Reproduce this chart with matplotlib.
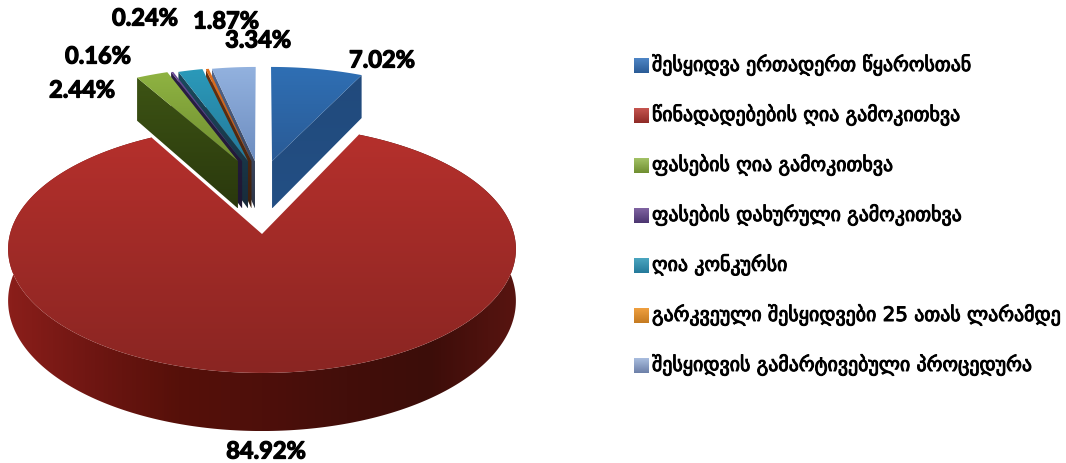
#!/usr/bin/env python3
import numpy as np
import matplotlib
matplotlib.use("Agg")
import matplotlib.patheffects as pe
import matplotlib.pyplot as plt
from matplotlib.colors import LinearSegmentedColormap
from matplotlib.patches import Polygon

# clockwise from north, same order as the legend except teal/orange labels
categories = [
    "შესყიდვა ერთადერთ წყაროსთან",
    "წინადადებების ღია გამოკითხვა",
    "ფასების ღია გამოკითხვა",
    "ფასების დახურული გამოკითხვა",
    "ღია კონკურსი",
    "გარკვეული შესყიდვები 25 ათას ლარამდე",
    "შესყიდვის გამარტივებული პროცედურა",
]
values = [7.02, 84.92, 2.44, 0.16, 1.87, 0.24, 3.34]
value_labels = ["7.02%", "84.92%", "2.44%", "0.16%", "1.87%", "0.24%", "3.34%"]

top_light = ["#2F6FB4", "#B5302C", "#8FB342", "#6A4A98", "#2B9ABA", "#E0701F", "#93B2DF"]
top_dark = ["#2A5B96", "#8A2522", "#6F8E30", "#4B3570", "#24799A", "#B85A18", "#6D8DC0"]
face_light = ["#214A7C", "#7A1A16", "#3D5414", "#2A1F45", "#1B4A5E", "#6A3210", "#55698F"]
face_dark = ["#234F84", "#4A0F0C", "#2A380D", "#1E1733", "#182B3A", "#3A2110", "#2C3344"]
legend_light = ["#4F86C6", "#C65550", "#A3C266", "#8064A2", "#4BA6C0", "#F0A040", "#A9BEDF"]
legend_dark = ["#2A5B96", "#8E2A26", "#6F8E30", "#4B3570", "#24799A", "#C47A20", "#6D7FA8"]
rim_colors = ["#8A1E1A", "#6E1612", "#561009", "#4E0F0B", "#430E0A", "#3C0D09", "#571410"]

# exploded slice offsets in ground-plane units
offset_x = [0.043, 0.0, -0.103, -0.085, -0.06, -0.045, -0.03]
offset_y = [0.644, 0.0, 0.644, 0.644, 0.644, 0.644, 0.644]

# label centres in pixels
label_x = [382, 266, 82, 98, 226, 145, 258]
label_y = [60, 451, 90, 56, 21, 18, 40]

APEX_X, APEX_Y = 262, 234
F_X, F_Y, PERSP, DEPTH = 252, 122, 0.122, 51

fig = plt.figure(figsize=(10.66, 4.63), dpi=100)
ax = fig.add_axes([0, 0, 1, 1])


def project(x, y, drop=0.0):
    den = 1 + PERSP * y
    return APEX_X + F_X * x / den, APEX_Y - F_Y * y / den + drop * DEPTH / den


def gradient_fill(xs, ys, colors, horizontal=False, zorder=1):
    poly = Polygon(np.column_stack([xs, ys]), closed=True, fc="none", ec="none", transform=ax.transData)
    ax.add_patch(poly)
    cmap = LinearSegmentedColormap.from_list("g", colors)
    grad = np.linspace(0, 1, 128).reshape(-1, 1)
    if horizontal:
        grad = grad.T
    im = ax.imshow(
        grad, cmap=cmap, aspect="auto", zorder=zorder, interpolation="bilinear",
        extent=(min(xs), max(xs), max(ys), min(ys)),
    )
    im.set_clip_path(poly)


def face(x0, y0, theta, i, zorder):
    # cut face running from the apex to the rim, dropped down by DEPTH
    t = np.radians(theta)
    xs = np.array([x0, x0 + np.sin(t), x0 + np.sin(t), x0])
    ys = np.array([y0, y0 + np.cos(t), y0 + np.cos(t), y0])
    px, py = project(xs, ys, np.array([0, 0, 1, 1]))
    gradient_fill(px, py, [face_light[i], face_dark[i]], zorder=zorder)


def top(x0, y0, start, end, i, zorder):
    t = np.radians(np.linspace(start, end, 200))
    xs = np.concatenate([[x0], x0 + np.sin(t)])
    ys = np.concatenate([[y0], y0 + np.cos(t)])
    px, py = project(xs, ys)
    gradient_fill(px, py, [top_light[i], top_dark[i]], zorder=zorder)


def red_rim(x0, y0, start, end, zorder):
    t = np.radians(np.linspace(start, end, 360))
    ux, uy = project(x0 + np.sin(t), y0 + np.cos(t))
    lx, ly = project(x0 + np.sin(t), y0 + np.cos(t), 1.0)
    px = np.concatenate([ux, lx[::-1]])
    py = np.concatenate([uy, ly[::-1]])
    gradient_fill(px, py, rim_colors, horizontal=True, zorder=zorder)


angles = np.concatenate([[0], np.cumsum(values) / np.sum(values) * 360])

# far slices first: right to left, the nearer neighbour hides the cut face
z = 2
for i in [6, 5, 4, 3, 2]:
    face(offset_x[i], offset_y[i], angles[i], i, z)
    top(offset_x[i], offset_y[i], angles[i], angles[i + 1], i, z + 1)
    z += 2

face(offset_x[0], offset_y[0], angles[1], 0, z)
top(offset_x[0], offset_y[0], angles[0], angles[1], 0, z + 1)

red_rim(offset_x[1], offset_y[1], angles[1], angles[2], z + 2)
top(offset_x[1], offset_y[1], angles[1], angles[2], 1, z + 3)

for text, lx, ly in zip(value_labels, label_x, label_y):
    ax.text(lx, ly, text, ha="center", va="center", fontsize=17, fontweight="bold",
            family="Lato", color="black", zorder=50,
            path_effects=[pe.withStroke(linewidth=0.9, foreground="black")])

for i, name in enumerate(categories):
    row = 65 + i * 50
    gradient_fill(np.array([634, 649, 649, 634]), np.array([row - 7, row - 7, row + 8, row + 8]),
                  [legend_light[i], legend_dark[i]], zorder=40)
    ax.text(652, row, name, ha="left", va="center", fontsize=14.3, family="DejaVu Sans",
            color="black", zorder=50,
            path_effects=[pe.withStroke(linewidth=0.7, foreground="black")])

ax.set_xlim(0, 1066)
ax.set_ylim(463, 0)
ax.axis("off")
fig.savefig("out.png", dpi=100)
